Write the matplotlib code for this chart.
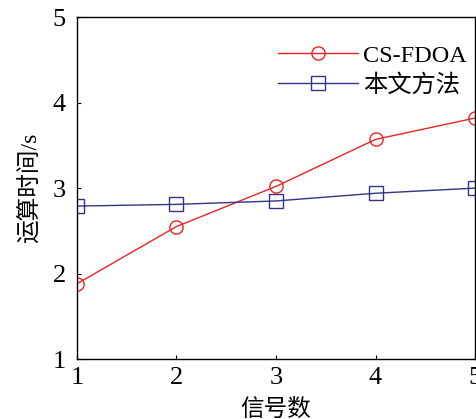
import matplotlib
matplotlib.use("Agg")
import matplotlib.pyplot as plt

# data
signals = [1, 2, 3, 4, 5]
cs_fdoa = [1.88, 2.55, 3.02, 3.57, 3.82]
proposed = [2.79, 2.81, 2.85, 2.94, 3.00]
yticks = [1, 2, 3, 4, 5]

plt.rcParams['font.family'] = ['Liberation Serif', 'Noto Sans CJK SC']

fig = plt.figure(figsize=(4.77, 4.19), dpi=100)
ax = fig.add_axes([0.161, 0.143, 0.835, 0.816])

ax.plot(signals, cs_fdoa, color='#ee2222', lw=1, marker='o', ms=9.5,
        mfc='none', mec='#ee2222', mew=1, label='CS-FDOA')
ax.plot(signals, proposed, color='#333388', lw=1, marker='s', ms=9.5,
        mfc='none', mec='#333388', mew=1, label='本文方法')

ax.set_xlim(1, 5)
ax.set_ylim(1, 5)
ax.set_xticks(signals)
ax.set_yticks(yticks)
ax.tick_params(direction='in', length=3, width=0.8, labelsize=19)
ax.tick_params(axis='y', pad=8)
ax.tick_params(axis='x', pad=6)
for sp in ax.spines.values():
    sp.set_linewidth(1)

ax.set_xlabel('信号数', fontsize=17, labelpad=7)
ax.set_ylabel('运算时间/s', fontsize=17, labelpad=8)

ax.legend(loc='upper left', bbox_to_anchor=(0.505, 0.92), frameon=False,
          fontsize=17.5, handlelength=3.3, handletextpad=0.2, borderaxespad=0,
          borderpad=0, labelspacing=0.3)

fig.savefig('out.png', dpi=100)
